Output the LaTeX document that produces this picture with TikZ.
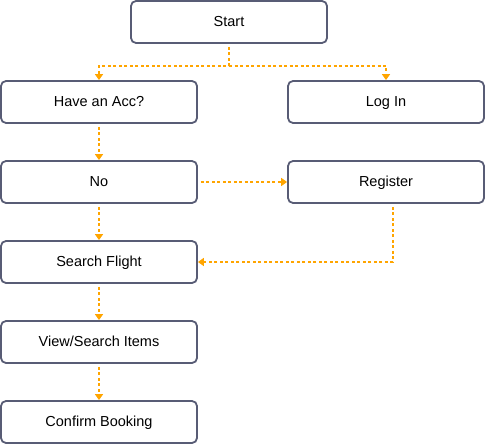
\documentclass[tikz,border=0pt]{standalone}
\usepackage{fontspec}
\setmainfont{Liberation Sans}
\usetikzlibrary{arrows.meta}
\definecolor{boxline}{HTML}{585C75}
\definecolor{flow}{HTML}{FFA500}
\begin{document}
\begin{tikzpicture}[x=1pt,y=-1pt,
    stepbox/.style={draw=boxline,line width=1.8pt,rounded corners=5pt,
      minimum width=196pt,minimum height=42pt,inner sep=0pt,
      text height=10pt,text depth=1pt,
      font=\fontsize{14.5}{17}\selectfont},
    flowline/.style={flow,line width=1.6pt,dash pattern=on 3pt off 2.5pt,
      shorten <=3pt,-{Triangle[width=8pt,length=6pt]}}]
            \useasboundingbox (0,0) rectangle (485,444);
            \node[stepbox] (start) at (229,22) {Start};
            \node[stepbox] (acc) at (99,102) {Have an Acc?};
            \node[stepbox] (login) at (386,102) {Log In};
            \node[stepbox] (no) at (99,182) {No};
            \node[stepbox] (register) at (386,182) {Register};
            \node[stepbox] (search) at (99,262) {Search Flight};
            \node[stepbox] (view) at (99,342) {View/Search Items};
            \node[stepbox] (confirm) at (99,422) {Confirm Booking};
            \coordinate (split) at (229,66);
            \draw[flowline] (start.south) -- (split) -| (acc.north);
            \draw[flowline,shorten <=0pt] (split) -| (login.north);
            \draw[flowline] (acc) -- (no);
            \draw[flowline] (no) -- (register);
            \draw[flowline] ([xshift=7pt]register.south) |- (search.east);
            \draw[flowline] (no) -- (search);
            \draw[flowline] (search) -- (view);
            \draw[flowline] (view) -- (confirm);
        \end{tikzpicture}
\end{document}
